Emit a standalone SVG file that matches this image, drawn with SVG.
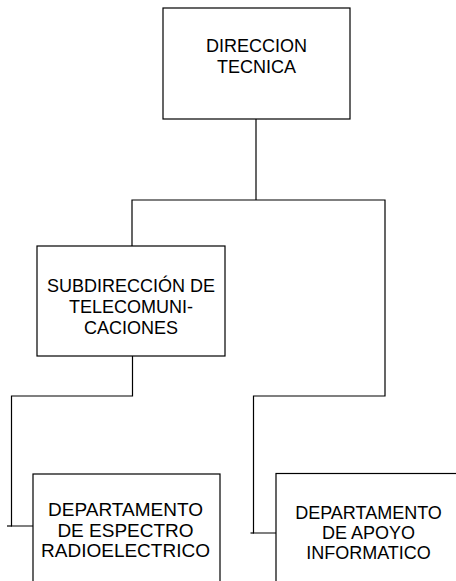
<svg xmlns="http://www.w3.org/2000/svg" width="456" height="581" viewBox="0 0 456 581">
<style>
.box{fill:#fff;stroke:#000;stroke-width:1.2}
.ln{fill:none;stroke:#000;stroke-width:1.2}
.t{font-family:"Liberation Sans",Arial,sans-serif;font-size:18px;fill:#000;text-anchor:middle}
.big{font-size:19px}
</style>
<rect width="456" height="581" fill="#fff"/>
<g id="connectors">
<polyline class="ln" points="256,119 256,200"/>
<polyline class="ln" points="132,246 132,200 385,200 385,396 253.5,396 253.5,533 276,533"/>
<polyline class="ln" points="132.5,356 132.5,396 11.5,396 11.5,526 33,526"/>
<line class="ln" x1="7" y1="526" x2="12" y2="526"/>
<line class="ln" x1="250.5" y1="533" x2="254" y2="533"/>
</g>
<g id="direccion-tecnica">
<rect class="box" x="163" y="8" width="187" height="111"/>
<text class="t" x="256.5" y="52">DIRECCION</text>
<text class="t" x="256.5" y="73">TECNICA</text>
</g>
<g id="subdireccion">
<rect class="box" x="37" y="246" width="188" height="110"/>
<text class="t" x="131" y="292">SUBDIRECCIÓN DE</text>
<text class="t" x="131" y="313">TELECOMUNI-</text>
<text class="t" x="131" y="333.5">CACIONES</text>
</g>
<g id="espectro">
<rect class="box" x="33" y="474" width="187" height="120"/>
<text class="t big" x="125.5" y="516">DEPARTAMENTO</text>
<text class="t big" x="125.5" y="536.5">DE ESPECTRO</text>
<text class="t big" x="125.5" y="557">RADIOELECTRICO</text>
</g>
<g id="apoyo">
<rect class="box" x="276" y="473.5" width="200" height="120"/>
<text class="t" x="368.5" y="518.5">DEPARTAMENTO</text>
<text class="t" x="368.5" y="538.5">DE APOYO</text>
<text class="t" x="368.5" y="558.5">INFORMATICO</text>
</g>
</svg>
